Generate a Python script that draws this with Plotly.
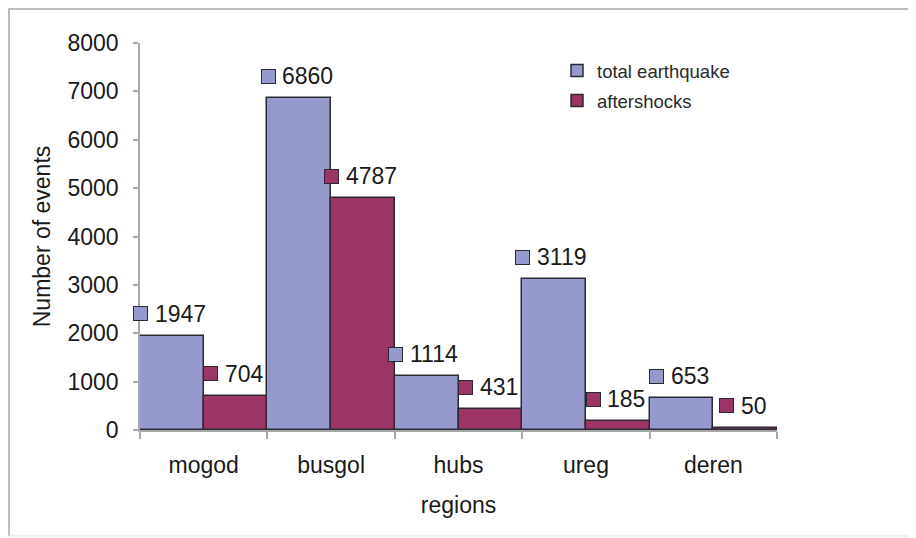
import plotly.graph_objects as go

categories = ["mogod", "busgol", "hubs", "ureg", "deren"]
total_earthquake = [1947, 6860, 1114, 3119, 653]
aftershocks = [704, 4787, 431, 185, 50]
series_names = ["total earthquake", "aftershocks"]
y_ticks = [0, 1000, 2000, 3000, 4000, 5000, 6000, 7000, 8000]

BLUE = "#9599CB"
MAROON = "#9C3465"
EDGE = "#2a2a33"
FONT = "Liberation Sans"

OFF = 8  # page body margin
W, H = 916 - OFF, 538 - OFF
L, T = 140 - OFF, 43 - OFF
PW, PH = 637, 387
R = W - L - PW
B = H - T - PH

fig = go.Figure()
fig.add_trace(go.Bar(x=categories, y=total_earthquake, name=series_names[0], legendgroup="a",
                     marker=dict(color=BLUE, line=dict(color=EDGE, width=1.5))))
fig.add_trace(go.Bar(x=categories, y=aftershocks, name=series_names[1], legendgroup="b",
                     marker=dict(color=MAROON, line=dict(color=EDGE, width=1.5))))

# data labels with legend keys
bar_w = PW / len(categories) / 2
SQ, GAP, DIGIT = 14, 7, 12.8
annotations = []
for vals, col, off in [(total_earthquake, BLUE, -bar_w / 2), (aftershocks, MAROON, bar_w / 2)]:
    for c, v in zip(categories, vals):
        txt = str(v)
        wtot = SQ + GAP + len(txt) * DIGIT
        left = off - 2 - wtot / 2
        annotations.append(dict(x=c, y=v, xref="x", yref="y", text=" ", showarrow=False,
                                xanchor="center", yanchor="middle",
                                xshift=left + SQ / 2, yshift=22,
                                width=SQ - 1, height=SQ - 1, borderpad=0,
                                bgcolor=col, bordercolor=EDGE, borderwidth=1,
                                font=dict(size=6)))
        annotations.append(dict(x=c, y=v, xref="x", yref="y", text=txt, showarrow=False,
                                xanchor="left", yanchor="middle",
                                xshift=left + SQ + GAP - 2, yshift=22,
                                font=dict(family=FONT, size=23, color="#1a1a1a")))

def px(xpage):
    return (xpage - OFF - L) / PW

def py(ypage):
    return (H - B - (ypage - OFF)) / PH

shapes = [
    dict(type="line", xref="paper", yref="paper", x0=px(9), x1=px(9), y0=py(8), y1=py(536),
         line=dict(color="#BDBDBD", width=2)),
    dict(type="line", xref="paper", yref="paper", x0=px(8), x1=px(930), y0=py(9), y1=py(9),
         line=dict(color="#BDBDBD", width=2)),
    dict(type="line", xref="paper", yref="paper", x0=px(8), x1=px(930), y0=py(536), y1=py(536),
         line=dict(color="#E0E0E0", width=1)),
]

fig.update_layout(
    width=W, height=H,
    margin=dict(l=L, r=R, t=T, b=B),
    paper_bgcolor="white", plot_bgcolor="white",
    barmode="group", bargap=0, bargroupgap=0,
    font=dict(family=FONT, size=23, color="#1a1a1a"),
    showlegend=True,
    legend=dict(x=px(557), y=py(52), xanchor="left", yanchor="top",
                font=dict(family=FONT, size=18.5, color="#2a2a2a"),
                bgcolor="rgba(0,0,0,0)", traceorder="grouped", tracegroupgap=3,
                itemwidth=30),
    annotations=annotations,
    shapes=shapes,
    xaxis=dict(type="category", range=[-0.5, 4.5], tickson="boundaries",
               ticks="outside", ticklen=7, tickcolor="#A8A8A8", tickwidth=1.5,
               showline=True, linecolor="#A8A8A8", linewidth=1.5,
               showgrid=False, ticklabelstandoff=14, automargin=False,
               tickfont=dict(size=23),
               title=dict(text="regions", font=dict(size=23), standoff=20)),
    yaxis=dict(range=[0, 8000], tickvals=y_ticks, ticks="outside", ticklen=5,
               tickcolor="#A8A8A8", tickwidth=1.5,
               showline=True, linecolor="#A8A8A8", linewidth=1.5,
               showgrid=False, zeroline=False, ticklabelstandoff=10, automargin=False,
               tickfont=dict(size=23),
               title=dict(text="Number of events", font=dict(size=23), standoff=10)),
)

fig.write_html("out.html")
